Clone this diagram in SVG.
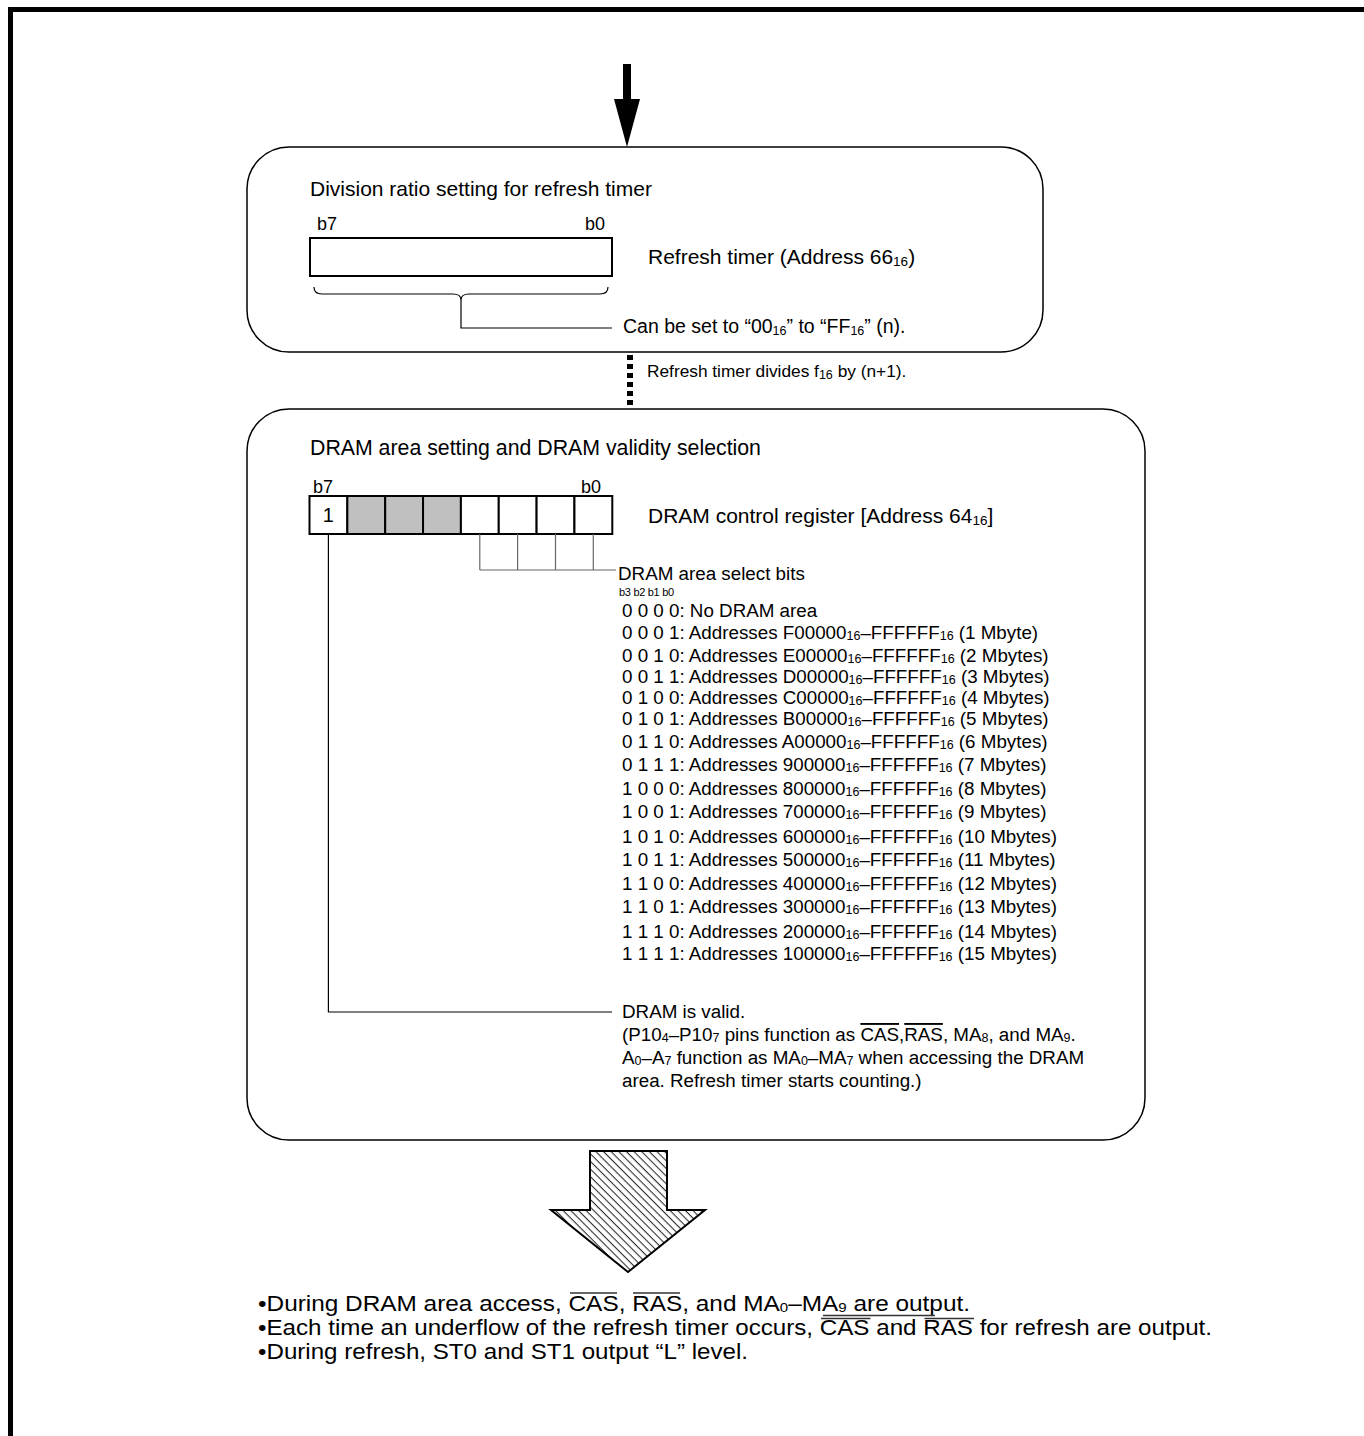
<svg xmlns="http://www.w3.org/2000/svg" width="1364" height="1436" viewBox="0 0 1364 1436">
<style>
text{font-family:"Liberation Sans",Arial,sans-serif;fill:#000}
.h{font-size:21px}
.t{font-size:18.8px}
.bb{font-size:18px}
.li{font-size:18.8px}
.bt{font-size:21.5px}
.s{font-size:12.5px}
.sh{font-size:13.5px}
.sb{font-size:13.3px}
.ov{text-decoration:overline}
.box{fill:#fff;stroke:#000;stroke-width:1.5}
.cell{fill:#fff;stroke:#000;stroke-width:2}
.g{fill:#c0c0c0}
.ln{fill:none;stroke:#000;stroke-width:1.2}
.gl{fill:none;stroke:#666;stroke-width:1.2}
.ol{stroke:#333;stroke-width:1.3}
</style>
<defs>
<pattern id="hatch" patternUnits="userSpaceOnUse" width="5.4" height="5.4" patternTransform="rotate(-45)"><rect width="5.4" height="5.4" fill="#fff"/><line x1="1.2" y1="0" x2="1.2" y2="5.4" stroke="#000" stroke-width="0.9"/></pattern>
</defs>
<path d="M10.5,1436 V9.5 H1364" fill="none" stroke="#000" stroke-width="5"/>

<g id="connectors">
<line x1="627" y1="64" x2="627" y2="100" stroke="#000" stroke-width="8"/>
<path d="M614,99 L640,99 L627,147 Z" fill="#000"/>
<line x1="630" y1="355" x2="630" y2="410" stroke="#000" stroke-width="6" stroke-dasharray="5,4"/>
<polygon id="bigarrow" points="590,1151 667,1151 667,1210 705,1210 628,1272 551,1210 590,1210" fill="url(#hatch)" stroke="#000" stroke-width="2"/>
</g>

<g id="box1">
<rect class="box" x="247" y="147" width="796" height="205" rx="42"/>
<text class="h" x="310" y="196">Division ratio setting for refresh timer</text>
<text class="bb" x="317" y="230">b7</text>
<text class="bb" x="585" y="230">b0</text>
<rect class="cell" x="310" y="238" width="302" height="38"/>
<text class="h" x="648" y="264">Refresh timer (Address 66<tspan class="sh" dy="2">16</tspan><tspan dy="-2">)</tspan></text>
<path class="ln" d="M314,287 Q314,294 322,294 L453,294 Q461,294 461,300 M608,287 Q608,294 600,294 L469,294 Q461,294 461,300 L461,328 L612,328"/>
<text x="623" y="333" font-size="19.5">Can be set to “00<tspan class="s" dy="2">16</tspan><tspan dy="-2">” to “FF</tspan><tspan class="s" dy="2">16</tspan><tspan dy="-2">” (n).</tspan></text>
</g>

<g id="note1">
<text x="647" y="377" font-size="17.3">Refresh timer divides f<tspan class="s" dy="2">16</tspan><tspan dy="-2"> by (n+1).</tspan></text>
</g>

<g id="box2">
<rect class="box" x="247" y="409" width="898" height="731" rx="42"/>
<text x="310" y="455" font-size="21.3">DRAM area setting and DRAM validity selection</text>
<text class="bb" x="313" y="493">b7</text>
<text class="bb" x="581" y="493">b0</text>
<rect class="cell" x="309.5" y="496" width="37.85" height="38"/>
<rect class="cell g" x="347.35" y="496" width="37.85" height="38"/>
<rect class="cell g" x="385.2" y="496" width="37.85" height="38"/>
<rect class="cell g" x="423.05" y="496" width="37.85" height="38"/>
<rect class="cell" x="460.9" y="496" width="37.85" height="38"/>
<rect class="cell" x="498.75" y="496" width="37.85" height="38"/>
<rect class="cell" x="536.6" y="496" width="37.85" height="38"/>
<rect class="cell" x="574.45" y="496" width="37.85" height="38"/>
<text x="328.4" y="522" font-size="20" text-anchor="middle">1</text>
<text class="h" x="648" y="523">DRAM control register [Address 64<tspan class="sh" dy="2">16</tspan><tspan dy="-2">]</tspan></text>
<path class="gl" d="M479.8,534 V570 M517.6,534 V570 M555.5,534 V570 M593.3,534 V570 M479.8,570 H616"/>
<text class="t" x="618" y="580">DRAM area select bits</text>
<text x="619" y="596" font-size="11" letter-spacing="-0.3">b3 b2 b1 b0</text>
<g class="li">
<text x="622" y="617">0 0 0 0: No DRAM area</text>
<text x="622" y="639">0 0 0 1: Addresses F00000<tspan class="s" dy="1">16</tspan><tspan dy="-1">–FFFFFF</tspan><tspan class="s" dy="1">16</tspan><tspan dy="-1"> (1 Mbyte)</tspan></text>
<text x="622" y="662">0 0 1 0: Addresses E00000<tspan class="s" dy="1">16</tspan><tspan dy="-1">–FFFFFF</tspan><tspan class="s" dy="1">16</tspan><tspan dy="-1"> (2 Mbytes)</tspan></text>
<text x="622" y="683">0 0 1 1: Addresses D00000<tspan class="s" dy="1">16</tspan><tspan dy="-1">–FFFFFF</tspan><tspan class="s" dy="1">16</tspan><tspan dy="-1"> (3 Mbytes)</tspan></text>
<text x="622" y="704">0 1 0 0: Addresses C00000<tspan class="s" dy="1">16</tspan><tspan dy="-1">–FFFFFF</tspan><tspan class="s" dy="1">16</tspan><tspan dy="-1"> (4 Mbytes)</tspan></text>
<text x="622" y="725">0 1 0 1: Addresses B00000<tspan class="s" dy="1">16</tspan><tspan dy="-1">–FFFFFF</tspan><tspan class="s" dy="1">16</tspan><tspan dy="-1"> (5 Mbytes)</tspan></text>
<text x="622" y="748">0 1 1 0: Addresses A00000<tspan class="s" dy="1">16</tspan><tspan dy="-1">–FFFFFF</tspan><tspan class="s" dy="1">16</tspan><tspan dy="-1"> (6 Mbytes)</tspan></text>
<text x="622" y="771">0 1 1 1: Addresses 900000<tspan class="s" dy="1">16</tspan><tspan dy="-1">–FFFFFF</tspan><tspan class="s" dy="1">16</tspan><tspan dy="-1"> (7 Mbytes)</tspan></text>
<text x="622" y="795">1 0 0 0: Addresses 800000<tspan class="s" dy="1">16</tspan><tspan dy="-1">–FFFFFF</tspan><tspan class="s" dy="1">16</tspan><tspan dy="-1"> (8 Mbytes)</tspan></text>
<text x="622" y="818">1 0 0 1: Addresses 700000<tspan class="s" dy="1">16</tspan><tspan dy="-1">–FFFFFF</tspan><tspan class="s" dy="1">16</tspan><tspan dy="-1"> (9 Mbytes)</tspan></text>
<text x="622" y="843">1 0 1 0: Addresses 600000<tspan class="s" dy="1">16</tspan><tspan dy="-1">–FFFFFF</tspan><tspan class="s" dy="1">16</tspan><tspan dy="-1"> (10 Mbytes)</tspan></text>
<text x="622" y="866">1 0 1 1: Addresses 500000<tspan class="s" dy="1">16</tspan><tspan dy="-1">–FFFFFF</tspan><tspan class="s" dy="1">16</tspan><tspan dy="-1"> (11 Mbytes)</tspan></text>
<text x="622" y="890">1 1 0 0: Addresses 400000<tspan class="s" dy="1">16</tspan><tspan dy="-1">–FFFFFF</tspan><tspan class="s" dy="1">16</tspan><tspan dy="-1"> (12 Mbytes)</tspan></text>
<text x="622" y="913">1 1 0 1: Addresses 300000<tspan class="s" dy="1">16</tspan><tspan dy="-1">–FFFFFF</tspan><tspan class="s" dy="1">16</tspan><tspan dy="-1"> (13 Mbytes)</tspan></text>
<text x="622" y="938">1 1 1 0: Addresses 200000<tspan class="s" dy="1">16</tspan><tspan dy="-1">–FFFFFF</tspan><tspan class="s" dy="1">16</tspan><tspan dy="-1"> (14 Mbytes)</tspan></text>
<text x="622" y="960">1 1 1 1: Addresses 100000<tspan class="s" dy="1">16</tspan><tspan dy="-1">–FFFFFF</tspan><tspan class="s" dy="1">16</tspan><tspan dy="-1"> (15 Mbytes)</tspan></text>
</g>
<path class="ln" d="M328.4,534 V1012 H612"/>
<text class="t" x="622" y="1018">DRAM is valid.</text>
<text class="t" x="622" y="1041">(P10<tspan class="s" dy="1">4</tspan><tspan dy="-1">–P10</tspan><tspan class="s" dy="1">7</tspan><tspan dy="-1"> pins function as </tspan><tspan class="ov">CAS</tspan>,<tspan class="ov">RAS</tspan>, MA<tspan class="s" dy="1">8</tspan><tspan dy="-1">, and MA</tspan><tspan class="s" dy="1">9</tspan><tspan dy="-1">.</tspan></text>
<text class="t" x="622" y="1064">A<tspan class="s" dy="1">0</tspan><tspan dy="-1">–A</tspan><tspan class="s" dy="1">7</tspan><tspan dy="-1"> function as MA</tspan><tspan class="s" dy="1">0</tspan><tspan dy="-1">–MA</tspan><tspan class="s" dy="1">7</tspan><tspan dy="-1"> when accessing the DRAM</tspan></text>
<text class="t" x="622" y="1087">area. Refresh timer starts counting.)</text>
</g>

<g id="result">
<text class="bt" x="258" y="1311" textLength="712" lengthAdjust="spacingAndGlyphs">•During DRAM area access, CAS, RAS, and MA<tspan class="sb" dy="1">0</tspan><tspan dy="-1">–MA</tspan><tspan class="sb" dy="1">9</tspan><tspan dy="-1"> are output.</tspan></text>
<text class="bt" x="258" y="1335" textLength="954" lengthAdjust="spacingAndGlyphs">•Each time an underflow of the refresh timer occurs, CAS and RAS for refresh are output.</text>
<text class="bt" x="258" y="1359" textLength="490" lengthAdjust="spacingAndGlyphs">•During refresh, ST0 and ST1 output “L” level.</text>
<path class="ol" d="M570,1293 H617 M633,1293 H680 M823,1315.5 H935 M821,1318.5 H870.5 M924.5,1318.5 H974"/>
</g>
</svg>
